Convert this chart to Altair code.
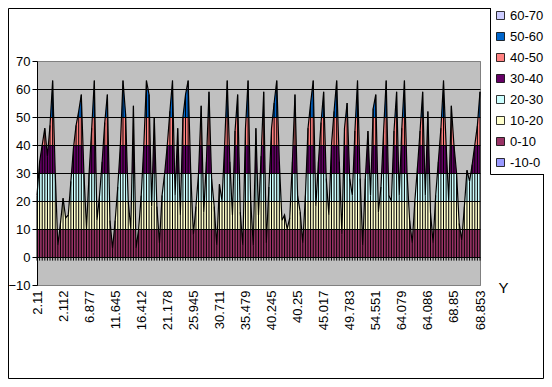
import altair as alt
import pandas as pd

# ---- data (one value per category) ----
values = [
    22, 34, 40, 46, 36, 47, 63, 30, 4, 12,
    21, 14, 15, 27, 39, 47, 52, 58, 30, 10,
    30, 46, 63, 13, 22, 34, 48, 58, 13, 3,
    13, 25, 40, 63, 51, 20, 10, 54, 3, 10,
    22, 40, 63, 58, 18, 50, 18, 5, 22, 30,
    40, 52, 63, 22, 46, 15, 50, 58, 63, 30,
    8, 18, 30, 54, 16, 34, 59, 28, 18, 4,
    26, 20, 40, 63, 34, 15, 45, 58, 16, 4,
    46, 63, 20, 4, 46, 15, 36, 59, 5, 25,
    46, 55, 63, 34, 13, 15, 10, 14, 34, 58,
    22, 16, 5, 22, 46, 55, 63, 18, 34, 48,
    59, 28, 15, 40, 52, 63, 34, 8, 46, 55,
    28, 22, 45, 63, 28, 4, 28, 45, 22, 53,
    58, 16, 25, 45, 63, 22, 20, 45, 59, 22,
    46, 63, 30, 13, 5, 20, 32, 45, 59, 22,
    52, 16, 5, 22, 34, 46, 63, 40, 20, 54,
    40, 30, 12, 6, 18, 31, 27, 33, 40, 47,
    59,
]
x_labels = ["2.11", "2.112", "6.877", "11.645", "16.412", "21.178", "25.945",
            "30.711", "35.479", "40.245", "40.25", "45.017", "49.783", "54.551",
            "64.079", "64.086", "68.85", "68.853"]
label_step = 10
y_ticks = [-10, 0, 10, 20, 30, 40, 50, 60, 70]
band_names = ["60-70", "50-60", "40-50", "30-40", "20-30", "10-20", "0-10", "-10-0"]
band_low = [60, 50, 40, 30, 20, 10, 0, -10]
band_high = [70, 60, 50, 40, 30, 20, 10, 0]
band_colors = ["#CCCCFF", "#0066CC", "#FF8080", "#660066",
               "#CCFFFF", "#FFFFCC", "#993366", "#9999FF"]

FONT = "Liberation Sans"
W, H = 443, 224
PL, PT, PR, PB = 29, 53, 64, 94

df = pd.DataFrame({"i": list(range(len(values))), "v": values})
bands = pd.DataFrame({"band": band_names, "lo": band_low, "hi": band_high})
bands_vis = bands[bands["lo"] >= 0]

xscale = alt.Scale(domain=[0, len(values) - 1], nice=False, zero=False)
yscale = alt.Scale(domain=[min(y_ticks), max(y_ticks)], nice=False, zero=False)

label_expr = "[" + ",".join("'" + s + "'" for s in x_labels) + "][round(datum.value/%d)]" % label_step

yaxis = alt.Axis(
    values=y_ticks, title=None, grid=True, zindex=1, labelOverlap=False,
    gridColor={"condition": {"test": "datum.value >= 70 || datum.value <= -10", "value": "#808080"},
               "value": "#000000"},
    gridWidth=1, domainColor="#000000", tickColor="#000000", tickSize=5,
    labelFont=FONT, labelFontSize=13, labelColor="#000000", labelPadding=2)

xaxis = alt.Axis(
    values=list(range(0, len(values), label_step)), labelExpr=label_expr,
    labelAngle=270, labelAlign="right", labelBaseline="middle",
    ticks=False, tickSize=0, domain=False, grid=False, labelPadding=5,
    labelFlush=False, labelOverlap=False, labelBound=False,
    labelFont=FONT, labelFontSize=13, labelColor="#000000",
    title="Y", titleAngle=0, titleX=W + 23, titleY=2, titleAlign="center",
    titleBaseline="middle", titleFont=FONT, titleFontSize=15,
    titleFontWeight="normal", titleColor="#000000")

X = alt.X("i:Q", scale=xscale, axis=xaxis)
Yv = alt.Y("v:Q", scale=yscale, axis=yaxis)

band_layer = alt.Chart(bands_vis).mark_rect().encode(
    x=alt.value(0), x2=alt.value(W),
    y=alt.Y("lo:Q", scale=yscale, axis=yaxis),
    y2="hi:Q",
    color=alt.Color("band:N", scale=alt.Scale(domain=band_names, range=band_colors),
                    legend=alt.Legend(orient="none", legendX=453, legendY=-56, title=None,
                                      symbolType="square", symbolSize=64,
                                      symbolStrokeColor="#000000", symbolStrokeWidth=0.8,
                                      labelFont=FONT, labelFontSize=13, labelColor="#000000",
                                      labelOffset=3, rowPadding=7, padding=4,
                                      strokeColor="#000000", fillColor="#FFFFFF")),
)

mask = alt.Chart(df).mark_area(color="#C0C0C0", interpolate="linear", opacity=1).encode(
    x=X, y=Yv, y2=alt.datum(max(y_ticks)),
)

rules = alt.Chart(df).mark_rule(color="#000000", strokeWidth=1).encode(
    x=X, y=Yv, y2=alt.datum(-1.3),
)

line = alt.Chart(df).mark_line(color="#000000", strokeWidth=1.2, interpolate="linear").encode(
    x=X, y=Yv,
)

total_w = PL + W + PR
total_h = PT + H + PB
frame = alt.Chart(pd.DataFrame({"a": [0]})).mark_rect(
    filled=False, stroke="#000000", strokeWidth=1).encode(
    x=alt.value(-PL + 0.5), x2=alt.value(total_w - PL - 0.5),
    y=alt.value(-PT + 0.5), y2=alt.value(total_h - PT - 0.5))

chart = alt.layer(band_layer, mask, rules, line, frame).properties(
    width=W, height=H,
    padding={"left": PL, "top": PT, "right": PR, "bottom": PB},
    autosize=alt.AutoSizeParams(type="none"),
    background="#FFFFFF",
).configure_view(fill="#C0C0C0", stroke="#808080", strokeWidth=1)

chart.save("out.html", embed_options={"renderer": "svg", "actions": False})
